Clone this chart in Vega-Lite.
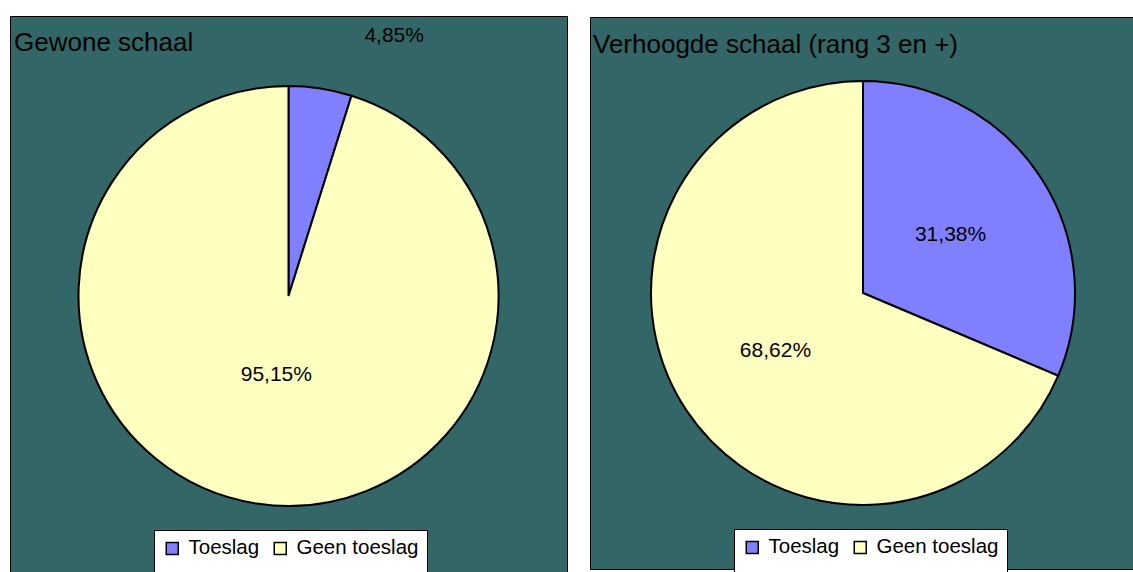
{
  "$schema": "https://vega.github.io/schema/vega-lite/v6.json",
  "padding": {"left": 9, "top": 15, "right": 0, "bottom": 0},
  "background": "#ffffff",
  "spacing": 21,
  "center": true,
  "config": {
    "font": "Liberation Sans",
    "legend": {
      "orient": "none",
      "direction": "horizontal",
      "fillColor": "#ffffff",
      "strokeColor": "#000000",
      "padding": 8,
      "labelFontSize": 20.5,
      "labelFont": "Liberation Sans",
      "labelColor": "#000000",
      "symbolType": "square",
      "symbolSize": 144,
      "symbolStrokeColor": "#000000",
      "symbolStrokeWidth": 1.5,
      "symbolOpacity": 1,
      "columnPadding": 10,
      "labelOffset": 6,
      "titleOrient": "bottom",
      "titleFontSize": 12,
      "titlePadding": 4,
      "legendX": 144,
      "legendY": 514
    }
  },
  "hconcat": [
    {
      "width": 557,
      "height": 560,
      "view": {"fill": "#336666", "stroke": "#000000", "strokeWidth": 1},
      "title": {"text": "Gewone schaal", "anchor": "start", "baseline": "alphabetic", "offset": -61, "dx": 4, "fontSize": 26, "fontWeight": "normal", "font": "Liberation Sans", "color": "#000000"},
      "data": {"values": [
        {"cat": "Toeslag", "pct": 4.85, "label": "4,85%", "ord": 1},
        {"cat": "Geen toeslag", "pct": 95.15, "label": "95,15%", "ord": 2}
      ]},
      "encoding": {
        "theta": {"field": "pct", "type": "quantitative", "stack": true},
        "order": {"field": "ord", "type": "quantitative"}
      },
      "layer": [
        {
          "mark": {"type": "arc", "outerRadius": 210, "stroke": "#000000", "strokeWidth": 2},
          "encoding": {
            "color": {"field": "cat", "type": "nominal", "sort": ["Toeslag", "Geen toeslag"],
              "scale": {"domain": ["Toeslag", "Geen toeslag"], "range": ["#8080FF", "#FFFFC0"]},
              "legend": {"title": "\u00a0"}}
          }
        },
        {
          "mark": {"type": "text", "radius": 80, "fontSize": 21, "color": "#000000"},
          "encoding": {"text": {"condition": {"test": "datum.ord == 2", "field": "label"}, "value": ""}}
        },
        {
          "mark": {"type": "text", "radius": 263, "dx": 36, "align": "left", "fontSize": 21, "color": "#000000"},
          "encoding": {"text": {"condition": {"test": "datum.ord == 1", "field": "label"}, "value": ""}}
        }
      ]
    },
    {
      "width": 546,
      "height": 552,
      "view": {"fill": "#336666", "stroke": "#000000", "strokeWidth": 1},
      "title": {"text": "Verhoogde schaal (rang 3 en +)", "anchor": "start", "baseline": "alphabetic", "offset": -62, "dx": 3, "fontSize": 26, "fontWeight": "normal", "font": "Liberation Sans", "color": "#000000"},
      "data": {"values": [
        {"cat": "Toeslag", "pct": 31.38, "label": "31,38%", "ord": 1},
        {"cat": "Geen toeslag", "pct": 68.62, "label": "68,62%", "ord": 2}
      ]},
      "encoding": {
        "theta": {"field": "pct", "type": "quantitative", "stack": true},
        "order": {"field": "ord", "type": "quantitative"}
      },
      "layer": [
        {
          "mark": {"type": "arc", "outerRadius": 212, "stroke": "#000000", "strokeWidth": 2},
          "encoding": {
            "color": {"field": "cat", "type": "nominal", "sort": ["Toeslag", "Geen toeslag"],
              "scale": {"domain": ["Toeslag", "Geen toeslag"], "range": ["#8080FF", "#FFFFC0"]},
              "legend": {"title": "\u00a0", "legendX": 144, "legendY": 512}}
          }
        },
        {
          "mark": {"type": "text", "radius": 105, "fontSize": 21, "color": "#000000"},
          "encoding": {"text": {"field": "label"}}
        }
      ]
    }
  ],
  "resolve": {"scale": {"theta": "independent", "color": "independent"}, "legend": {"color": "independent"}}
}
